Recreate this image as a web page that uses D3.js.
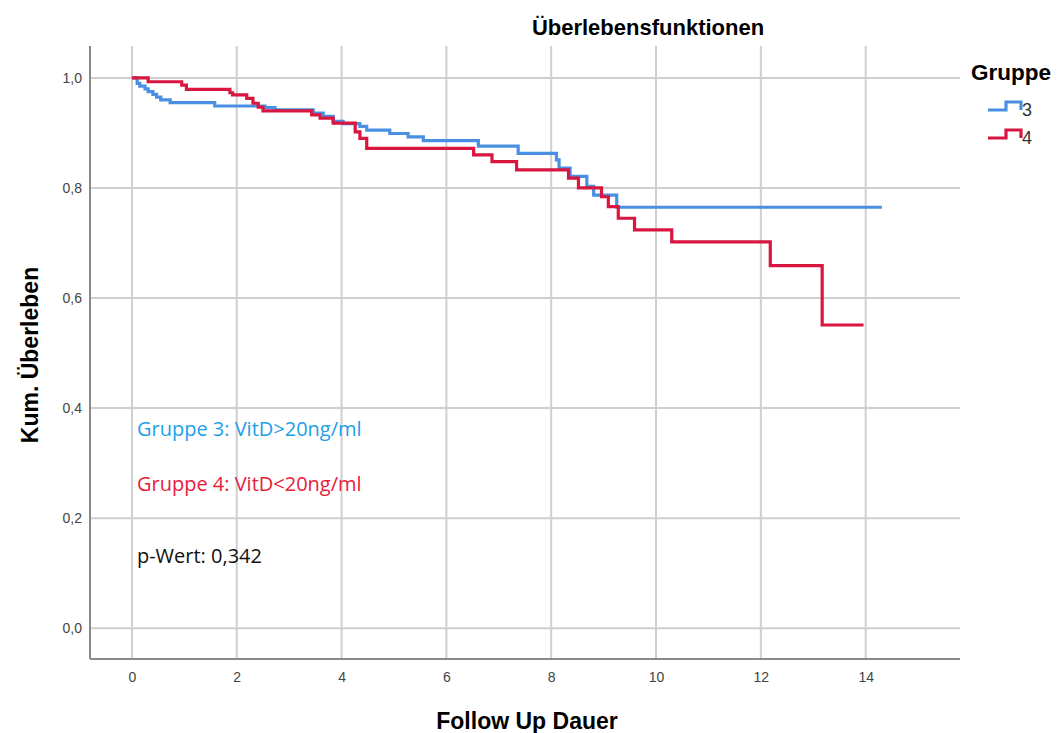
<!DOCTYPE html>
<html>
<head>
<meta charset="utf-8">
<script src="https://cdn.jsdelivr.net/npm/d3@7"></script>
<style>
  body { margin: 0; background: #fff; }
  svg { display: block; }
</style>
</head>
<body>
<svg id="chart" width="1059" height="733"></svg>
<script>
// Kaplan-Meier steps: [time, survival after step]
const group3 = [[0,1.0],[0.10,0.99],[0.15,0.985],[0.25,0.98],[0.31,0.975],[0.40,0.97],[0.47,0.965],[0.55,0.96],
  [0.73,0.955],[1.58,0.949],[2.54,0.946],[2.73,0.942],[3.46,0.936],[3.65,0.930],[3.84,0.921],[4.03,0.917],
  [4.35,0.912],[4.48,0.905],[4.92,0.899],[5.27,0.893],[5.56,0.886],[6.61,0.876],[7.37,0.863],[8.10,0.851],
  [8.15,0.836],[8.36,0.821],[8.68,0.803],[8.81,0.787],[9.25,0.765],[14.31,0.765]]
const group4 = [[0,1.0],[0.31,0.993],[0.95,0.987],[1.04,0.979],[1.87,0.973],[1.92,0.969],[2.19,0.963],[2.31,0.954],
  [2.41,0.947],[2.50,0.940],[3.43,0.933],[3.59,0.927],[3.84,0.918],[4.26,0.902],[4.35,0.890],[4.48,0.872],
  [6.52,0.860],[6.87,0.848],[7.34,0.833],[8.33,0.818],[8.52,0.800],[8.96,0.784],[9.09,0.766],[9.28,0.745],
  [9.59,0.724],[10.30,0.702],[12.18,0.659],[13.17,0.551],[13.96,0.551]]
const groups = ["3", "4"]
const colors = ["#4a90e2", "#d8163f"]
const xTicks = [0, 2, 4, 6, 8, 10, 12, 14]
const yTicks = [0, 0.2, 0.4, 0.6, 0.8, 1.0]
const notes = [
  {text: "Gruppe 3: VitD>20ng/ml", color: "#1ea0e6", y: 0.36},
  {text: "Gruppe 4: VitD<20ng/ml", color: "#e8203a", y: 0.26},
  {text: "p-Wert: 0,342", color: "#111", y: 0.13}
]

const svg = d3.select("#chart")
const pLeft = 90, pRight = 960, pTop = 46, pBottom = 659

const x = d3.scaleLinear().domain([-0.8, 15.8]).range([pLeft, pRight])
const y = d3.scaleLinear().domain([-0.056, 1.058]).range([pBottom, pTop])

// grid
svg.append("g").selectAll("line").data(xTicks).enter().append("line")
  .attr("x1", d => x(d)).attr("x2", d => x(d))
  .attr("y1", pTop).attr("y2", pBottom)
  .attr("stroke", "#cfcfcf").attr("stroke-width", 2)
svg.append("g").selectAll("line").data(yTicks).enter().append("line")
  .attr("x1", pLeft).attr("x2", pRight)
  .attr("y1", d => y(d)).attr("y2", d => y(d))
  .attr("stroke", "#cfcfcf").attr("stroke-width", 2)

// axes
const xAxis = svg.append("g").attr("transform", `translate(0,${pBottom})`)
  .call(d3.axisBottom(x).tickValues(xTicks).tickSize(0).tickPadding(13).tickFormat(d3.format("d")))
const yAxis = svg.append("g").attr("transform", `translate(${pLeft},0)`)
  .call(d3.axisLeft(y).tickValues(yTicks).tickSize(0).tickPadding(8).tickFormat(d => d.toFixed(1).replace(".", ",")))
;[xAxis, yAxis].forEach(a => {
  a.select(".domain").attr("stroke", "#8a8a8a").attr("stroke-width", 2)
  a.selectAll("text").attr("font-family", "Liberation Sans, Arial").attr("font-size", 14).attr("fill", "#444")
})
yAxis.select(".domain").attr("d", `M0,${pTop}V${pBottom}`)
xAxis.select(".domain").attr("d", `M${pLeft},0H${pRight}`)

// curves
const line = d3.line().x(d => x(d[0])).y(d => y(d[1])).curve(d3.curveStepAfter)
;[group3, group4].forEach((g, i) => {
  svg.append("path").datum(g)
    .attr("d", line)
    .attr("fill", "none")
    .attr("stroke", colors[i])
    .attr("stroke-width", 3.2)
})

// annotations
svg.append("g").selectAll("text").data(notes).enter().append("text")
  .attr("x", x(0) + 5).attr("y", d => y(d.y) + 6)
  .attr("fill", d => d.color)
  .attr("font-family", "Open Sans, sans-serif").attr("font-size", 20)
  .text(d => d.text)

// titles
svg.append("text").attr("x", 648).attr("y", 35).attr("text-anchor", "middle")
  .attr("font-family", "Liberation Sans, Arial").attr("font-weight", "bold").attr("font-size", 22)
  .text("Überlebensfunktionen")
svg.append("text").attr("x", 527).attr("y", 729).attr("text-anchor", "middle")
  .attr("font-family", "Liberation Sans, Arial").attr("font-weight", "bold").attr("font-size", 23)
  .text("Follow Up Dauer")
svg.append("text").attr("transform", "translate(38,355) rotate(-90)").attr("text-anchor", "middle")
  .attr("font-family", "Liberation Sans, Arial").attr("font-weight", "bold").attr("font-size", 23)
  .text("Kum. Überleben")

// legend
const legend = svg.append("g")
legend.append("text").attr("x", 971).attr("y", 80)
  .attr("font-family", "Liberation Sans, Arial").attr("font-weight", "bold").attr("font-size", 22.5)
  .text("Gruppe")
groups.forEach((g, i) => {
  const ly = 110 + i * 28
  legend.append("path")
    .attr("d", `M988,${ly}H1006V${ly - 8}H1021V${ly}`)
    .attr("fill", "none").attr("stroke", colors[i]).attr("stroke-width", 3.2)
  legend.append("text").attr("x", 1022).attr("y", ly + 6)
    .attr("font-family", "Liberation Sans, Arial").attr("font-size", 18).attr("fill", "#333")
    .text(g)
})
</script>
</body>
</html>
